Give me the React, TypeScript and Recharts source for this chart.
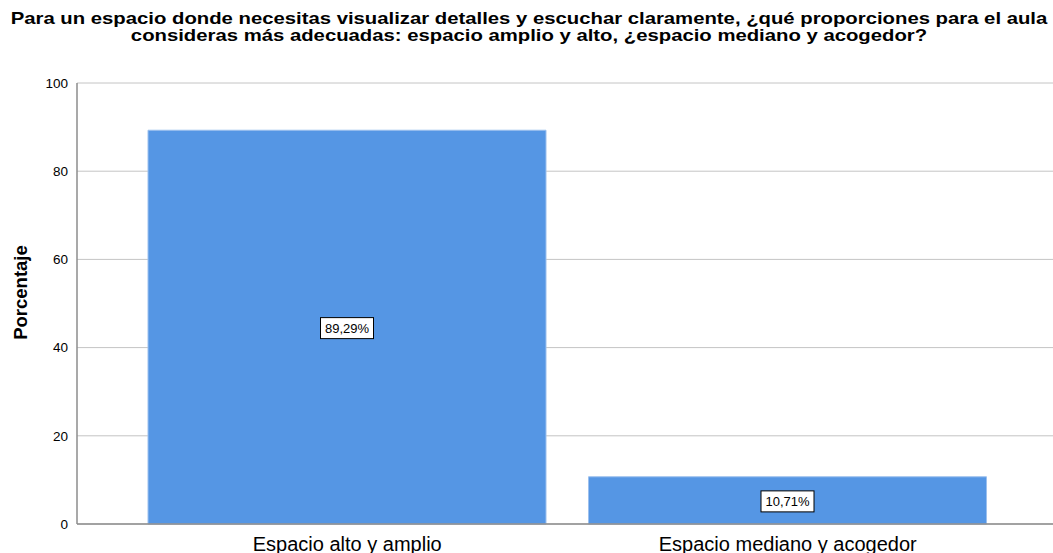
import { BarChart, Bar, XAxis, YAxis, CartesianGrid, LabelList } from "recharts";

const categories = ["Espacio alto y amplio", "Espacio mediano y acogedor"];
const percentages = [89.29, 10.71];
const yTicks = [0, 20, 40, 60, 80, 100];

const titleLines = [
  "Para un espacio donde necesitas visualizar detalles y escuchar claramente, ¿qué proporciones para el aula",
  "consideras más adecuadas: espacio amplio y alto, ¿espacio mediano y acogedor?",
];

const data = categories.map((name, i) => ({ name, value: percentages[i] }));

const font = "Arial, 'Liberation Sans', sans-serif";

function BoxLabel(props: any) {
  const { x, y, width, height, value } = props;
  const cx = x + width / 2;
  const cy = y + height / 2 + 1;
  const text = value.toFixed(2).replace(".", ",") + "%";
  const w = 53;
  const h = 21;
  return (
    <g>
      <rect x={cx - w / 2} y={cy - h / 2} width={w} height={h} fill="#fff" stroke="#000" strokeWidth={1} />
      <text x={cx} y={cy + 4.5} textAnchor="middle" fontSize={13} fontFamily={font} fill="#000">
        {text}
      </text>
    </g>
  );
}

function YLabel(props: any) {
  const { viewBox } = props;
  const cy = viewBox.y + viewBox.height / 2 - 11;
  return (
    <text
      x={20}
      y={cy}
      transform={`rotate(-90, 20, ${cy})`}
      textAnchor="middle"
      dominantBaseline="central"
      fontSize={18.5}
      fontWeight="bold"
      fontFamily={font}
      fill="#000"
    >
      Porcentaje
    </text>
  );
}

export default function App() {
  return (
    <div style={{ position: "absolute", left: 0, top: 0, width: 1053, height: 553, background: "#fff", overflow: "hidden" }}>
      <div
        style={{
          position: "absolute",
          left: 0,
          top: 10,
          width: 1058,
          textAlign: "center",
          fontFamily: font,
          fontWeight: "bold",
          fontSize: 16.5,
          lineHeight: "17px",
          color: "#000",
          transform: "scaleX(1.23)",
          transformOrigin: "529px 0",
        }}
      >
        {titleLines.map((l) => (
          <div key={l} style={{ whiteSpace: "nowrap" }}>{l}</div>
        ))}
      </div>
      <BarChart
        width={1053}
        height={553}
        data={data}
        margin={{ top: 83, right: 0, bottom: 0, left: 0 }}
        barSize={398}
      >
        <CartesianGrid vertical={false} stroke="#c4c4c4" strokeWidth={1} />
        <XAxis
          dataKey="name"
          height={29}
          padding={{ left: 50, right: 45 }}
          axisLine={{ stroke: "#8c8c8c", strokeWidth: 1.5 }}
          tickLine={false}
          tick={{ fontSize: 20, fill: "#000", fontFamily: font, dy: 5 }}
        />
        <YAxis
          width={77}
          domain={[0, 100]}
          ticks={yTicks}
          interval={0}
          axisLine={{ stroke: "#8c8c8c", strokeWidth: 1.5 }}
          tickLine={false}
          tick={{ fontSize: 13.5, fill: "#000", fontFamily: font, dx: -1 }}
          label={<YLabel />}
        />
        <Bar dataKey="value" fill="#5596e4" stroke="#9cc0ee" strokeWidth={1} isAnimationActive={false}>
          <LabelList dataKey="value" content={BoxLabel} />
        </Bar>
      </BarChart>
    </div>
  );
}
